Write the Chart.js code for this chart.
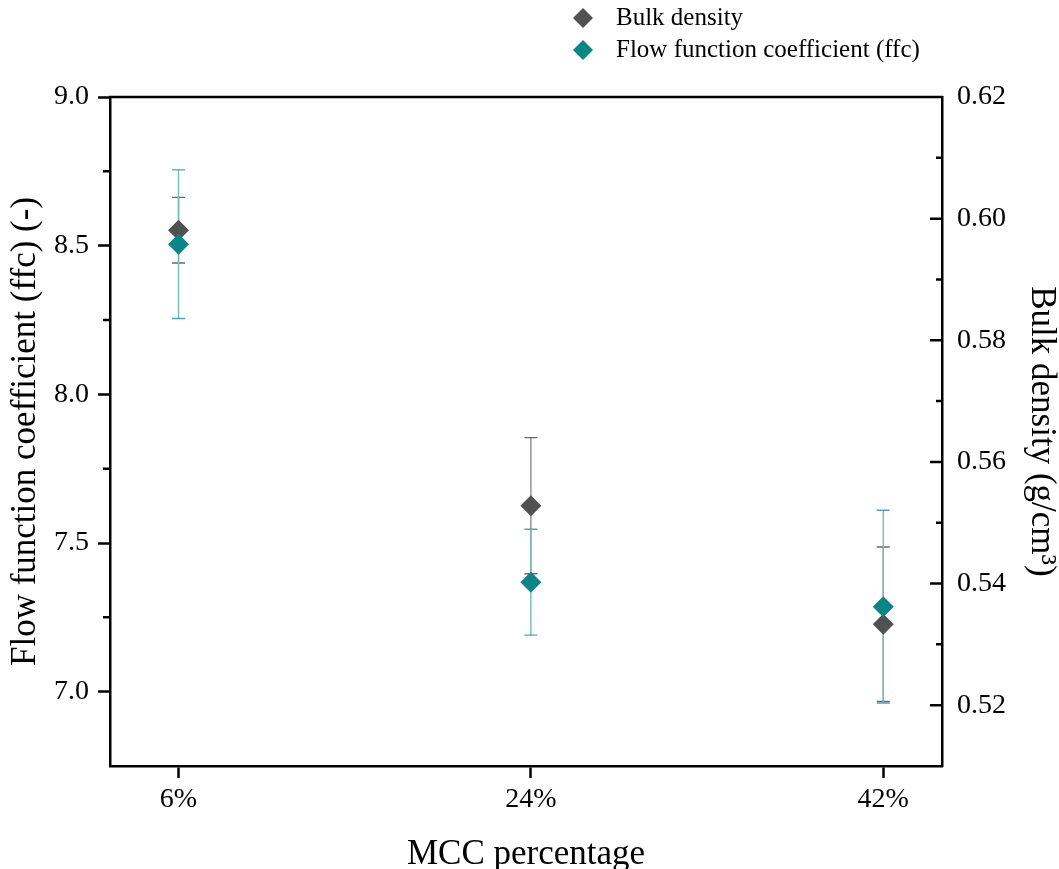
<!DOCTYPE html>
<html>
<head>
<meta charset="utf-8">
<title>MCC percentage vs ffc and bulk density</title>
<script src="https://cdn.jsdelivr.net/npm/chart.js@4.4.1/dist/chart.umd.min.js"></script>
<style>
  html, body { margin: 0; padding: 0; background: #fff; }
  #wrap { width: 1059px; height: 869px; }
</style>
</head>
<body>
<div id="wrap"><canvas id="mccChart" width="1059" height="869"></canvas></div>
<script>
// values
const mccPercent = [6, 24, 42];
const bulkDensity = [0.5981, 0.5528, 0.5333];
const bulkDensityErr = [0.0054, 0.0112, 0.0127];
const ffc = [8.505, 7.368, 7.286];
const ffcErr = [0.25, 0.178, 0.324];

const ffcTicks = [7.0, 7.5, 8.0, 8.5, 9.0];
const ffcMinorTicks = [7.25, 7.75, 8.25, 8.75];
const densityTicks = [0.52, 0.54, 0.56, 0.58, 0.60, 0.62];
const densityMinorTicks = [0.53, 0.55, 0.57, 0.59, 0.61];

const GREY = '#515151';
const TEAL = '#0b8585';
const serif = "'Liberation Serif', 'Times New Roman', serif";
const AXIS_W = 2.5;

Chart.defaults.font.family = serif;
Chart.defaults.color = '#000';

// vertical error bars with caps, drawn under the markers
const errorBars = {
  id: 'errorBars',
  beforeDatasetsDraw(chart) {
    const ctx = chart.ctx;
    const xs = chart.scales.x;
    const groups = [
      { axis: chart.scales.y1, vals: bulkDensity, errs: bulkDensityErr, line: '#8d8d8d', cap: '#6a6a6a' },
      { axis: chart.scales.y, vals: ffc, errs: ffcErr, line: '#74bdbd', cap: '#52a6a6' }
    ];
    ctx.save();
    ctx.lineWidth = 1.4;
    groups.forEach(g => {
      mccPercent.forEach((m, i) => {
        const px = xs.getPixelForValue(m);
        const top = g.axis.getPixelForValue(g.vals[i] + g.errs[i]);
        const bot = g.axis.getPixelForValue(g.vals[i] - g.errs[i]);
        ctx.strokeStyle = g.line;
        ctx.beginPath();
        ctx.moveTo(px, top); ctx.lineTo(px, bot);
        ctx.stroke();
        ctx.strokeStyle = g.cap;
        ctx.beginPath();
        ctx.moveTo(px - 6.5, top); ctx.lineTo(px + 6.5, top);
        ctx.moveTo(px - 6.5, bot); ctx.lineTo(px + 6.5, bot);
        ctx.stroke();
      });
    });
    ctx.restore();
  }
};

// top frame line, minor ticks on the left, inward ticks on the right axis
const axisExtras = {
  id: 'axisExtras',
  afterDraw(chart) {
    const { ctx, chartArea: a, scales } = chart;
    ctx.save();
    ctx.strokeStyle = '#000';
    ctx.lineWidth = AXIS_W;
    ctx.beginPath();
    ctx.moveTo(a.left - 1, a.top);
    ctx.lineTo(a.right + 1, a.top);
    ffcMinorTicks.forEach(v => {
      const py = scales.y.getPixelForValue(v);
      ctx.moveTo(a.left, py); ctx.lineTo(a.left - 7, py);
    });
    densityTicks.forEach(v => {
      const py = scales.y1.getPixelForValue(v);
      ctx.moveTo(a.right, py); ctx.lineTo(a.right - 12, py);
    });
    densityMinorTicks.forEach(v => {
      const py = scales.y1.getPixelForValue(v);
      ctx.moveTo(a.right, py); ctx.lineTo(a.right - 6, py);
    });
    ctx.stroke();
    ctx.restore();
  }
};

// two-row legend in the top right corner
const cornerLegend = {
  id: 'cornerLegend',
  afterDraw(chart) {
    const ctx = chart.ctx;
    ctx.save();
    ctx.font = '25px ' + serif;
    ctx.textBaseline = 'middle';
    chart.data.datasets.forEach((ds, i) => {
      const y = 18 + i * 32;
      const x = 583, r = 10;
      ctx.fillStyle = ds.backgroundColor;
      ctx.beginPath();
      ctx.moveTo(x, y - r); ctx.lineTo(x + r, y); ctx.lineTo(x, y + r); ctx.lineTo(x - r, y);
      ctx.closePath();
      ctx.fill();
      ctx.fillStyle = '#000';
      ctx.fillText(ds.label, 616, y);
    });
    ctx.restore();
  }
};

const ctx = document.querySelector('#mccChart').getContext('2d');

new Chart(ctx, {
  type: 'scatter',
  data: {
    datasets: [
      {
        label: 'Bulk density',
        data: mccPercent.map((m, i) => ({ x: m, y: bulkDensity[i] })),
        yAxisID: 'y1',
        backgroundColor: GREY,
        borderWidth: 0,
        pointStyle: 'rectRot',
        pointRadius: 10.5,
        order: 1
      },
      {
        label: 'Flow function coefficient (ffc)',
        data: mccPercent.map((m, i) => ({ x: m, y: ffc[i] })),
        yAxisID: 'y',
        backgroundColor: TEAL,
        borderWidth: 0,
        pointStyle: 'rectRot',
        pointRadius: 10.5,
        order: 0
      }
    ]
  },
  options: {
    responsive: false,
    animation: false,
    layout: { padding: { top: 97, left: 0, right: 0, bottom: 0 } },
    plugins: {
      legend: { display: false },
      tooltip: { enabled: false }
    },
    scales: {
      x: {
        type: 'linear',
        min: 2.5,
        max: 45,
        afterBuildTicks: s => { s.ticks = mccPercent.map(v => ({ value: v })); },
        afterFit: s => { s.height = 103; },
        ticks: { callback: v => v + '%', font: { size: 28 }, color: '#000', padding: 5, autoSkip: false, maxRotation: 0 },
        grid: { drawOnChartArea: false, tickLength: 12, tickWidth: AXIS_W, tickColor: '#000' },
        border: { display: true, color: '#000', width: AXIS_W },
        title: { display: true, text: 'MCC percentage', font: { size: 35, lineHeight: 0.8 }, color: '#000', padding: 0 }
      },
      y: {
        position: 'left',
        min: 6.75,
        max: 9.0,
        afterBuildTicks: s => { s.ticks = ffcTicks.map(v => ({ value: v })); },
        afterFit: s => { s.width = 110; },
        ticks: { callback: v => v.toFixed(1), font: { size: 28 }, color: '#000', padding: 9 },
        grid: { drawOnChartArea: false, tickLength: 12, tickWidth: AXIS_W, tickColor: '#000' },
        border: { display: true, color: '#000', width: AXIS_W },
        title: { display: true, text: 'Flow function coefficient (ffc) (-)', font: { size: 35 }, color: '#000', padding: { top: 5, bottom: 0 } }
      },
      y1: {
        position: 'right',
        min: 0.51,
        max: 0.62,
        afterBuildTicks: s => { s.ticks = densityTicks.map(v => ({ value: v })); },
        afterFit: s => { s.width = 117; },
        ticks: { callback: v => v.toFixed(2), font: { size: 28 }, color: '#000', padding: 15 },
        grid: { drawOnChartArea: false, drawTicks: false },
        border: { display: true, color: '#000', width: AXIS_W },
        title: { display: true, text: 'Bulk density (g/cm³)', font: { size: 35, lineHeight: 1 }, color: '#000', padding: { top: 0, bottom: 0 } }
      }
    }
  },
  plugins: [errorBars, axisExtras, cornerLegend]
});
</script>
</body>
</html>
